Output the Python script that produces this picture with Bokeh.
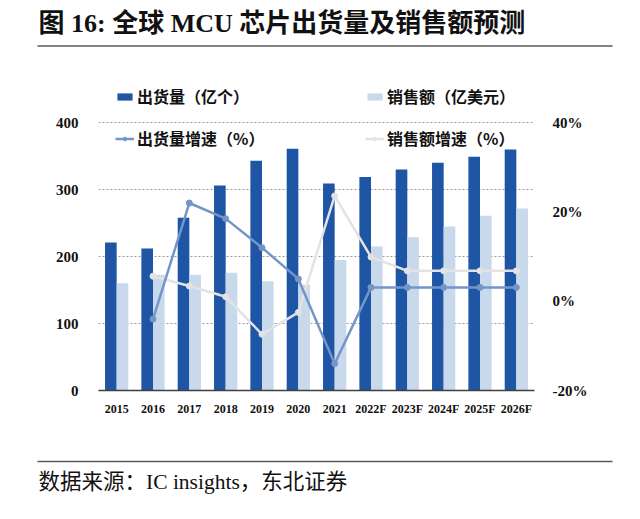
from bokeh.plotting import figure
from bokeh.models import (ColumnDataSource, FactorRange, Range1d, LinearAxis, FixedTicker,
                          Legend, LegendItem, PrintfTickFormatter)
from bokeh.transform import dodge
from bokeh.embed import file_html
from bokeh.resources import INLINE
from bokeh.core.properties import value

# ---------------- data ----------------
years = ["2015", "2016", "2017", "2018", "2019", "2020", "2021",
         "2022F", "2023F", "2024F", "2025F", "2026F"]
shipments = [221, 212, 258, 306, 343, 361, 309, 319, 330, 340, 349, 360]      # 亿个
sales = [160, 173, 173, 176, 163, 158, 195, 215, 229, 245, 261, 272]          # 亿美元
growth_years = ["2016", "2017", "2018", "2019", "2020", "2021",
                "2022F", "2023F", "2024F", "2025F", "2026F"]
ship_growth = [-4.0, 22.0, 18.5, 12.0, 5.0, -14.0, 3.1, 3.1, 3.1, 3.1, 3.1]   # %
sales_growth = [5.6, 3.4, 1.0, -7.4, -2.5, 23.6, 9.9, 6.8, 6.8, 6.8, 6.8]     # %
left_ticks = [0, 100, 200, 300, 400]
right_ticks = [-20, 0, 20, 40]

title_text = "图 16:  全球 MCU 芯片出货量及销售额预测"
source_text = "数据来源：IC insights，东北证券"
lbl_ship = "出货量（亿个）"
lbl_sales = "销售额（亿美元）"
lbl_ship_g = "出货量增速（%）"
lbl_sales_g = "销售额增速（%）"

DARK = "#1F55A5"
LIGHT = "#C9D9EC"
BLUE_LINE = "#7395C9"
GRAY_LINE = "#E3E3E3"
RULE = "#5A5A5A"
SERIF = "'Liberation Serif', 'Noto Sans CJK SC'"
CJK = "'Noto Sans CJK SC'"

W = 632

# ---------------- header ----------------
head = figure(width=W, height=60, x_range=Range1d(0, W), y_range=Range1d(60, 0),
              x_axis_type=None, y_axis_type=None, toolbar_location=None,
              output_backend="svg", min_border=0, outline_line_color=None)
head.grid.visible = False
head.text(x=[38], y=[23], text=[title_text], text_font=value(SERIF),
          text_font_style="bold", text_font_size="26px", text_baseline="middle",
          text_color="#111111")
head.segment(x0=[37], y0=[45.5], x1=[612], y1=[45.5], line_color=RULE, line_width=1.5)

# ---------------- main chart ----------------
src = ColumnDataSource(dict(year=years, ship=shipments, sales=sales))
gsrc = ColumnDataSource(dict(year=growth_years, sg=ship_growth, slg=sales_growth))

p = figure(width=W, height=385, x_range=FactorRange(*years), y_range=Range1d(0, 460),
           toolbar_location=None, output_backend="svg",
           min_border_left=98, min_border_right=98, min_border_top=22, min_border_bottom=55,
           outline_line_color=None)
p.extra_y_ranges = {"pct": Range1d(-20, 49.0)}

b1 = p.vbar(x=dodge("year", -0.16, range=p.x_range), top="ship", width=0.32,
            source=src, fill_color=DARK, line_color=None)
b2 = p.vbar(x=dodge("year", 0.16, range=p.x_range), top="sales", width=0.32,
            source=src, fill_color=LIGHT, line_color=None)

l2 = p.line(x="year", y="slg", source=gsrc, y_range_name="pct", line_color=GRAY_LINE, line_width=2.5)
s2 = p.scatter(x="year", y="slg", source=gsrc, y_range_name="pct", size=6,
               fill_color=GRAY_LINE, line_color=GRAY_LINE)
l1 = p.line(x="year", y="sg", source=gsrc, y_range_name="pct", line_color=BLUE_LINE, line_width=2.5)
s1 = p.scatter(x="year", y="sg", source=gsrc, y_range_name="pct", size=6,
               fill_color=BLUE_LINE, line_color=BLUE_LINE)

# grid
p.xgrid.grid_line_color = None
p.ygrid.ticker = FixedTicker(ticks=[100, 200, 300, 400])
p.ygrid.grid_line_color = "#9A9A9A"
p.ygrid.grid_line_dash = "2 2"
p.ygrid.grid_line_width = 1

# left axis
p.yaxis.ticker = FixedTicker(ticks=left_ticks)
p.yaxis.axis_line_color = None
p.yaxis.major_tick_line_color = None
p.yaxis.minor_tick_line_color = None
p.yaxis.major_label_text_font = SERIF
p.yaxis.major_label_text_font_style = "bold"
p.yaxis.major_label_text_font_size = "15px"
p.yaxis.major_label_text_color = "#111111"
p.yaxis.major_label_standoff = 14

# right axis
ra = LinearAxis(y_range_name="pct", ticker=FixedTicker(ticks=right_ticks),
                formatter=PrintfTickFormatter(format="%d%%"))
ra.axis_line_color = None
ra.major_tick_line_color = None
ra.minor_tick_line_color = None
ra.major_label_text_font = SERIF
ra.major_label_text_font_style = "bold"
ra.major_label_text_font_size = "15px"
ra.major_label_text_color = "#111111"
ra.major_label_standoff = 12
p.add_layout(ra, "right")

# x axis
p.xaxis.axis_line_color = "#404040"
p.xaxis.axis_line_width = 1.5
p.xaxis.major_tick_line_color = None
p.xaxis.minor_tick_line_color = None
p.xaxis.major_label_text_font = SERIF
p.xaxis.major_label_text_font_style = "bold"
p.xaxis.major_label_text_font_size = "12px"
p.xaxis.major_label_text_color = "#111111"
p.xaxis.major_label_standoff = 5

def make_legend(items, loc):
    return Legend(items=items, location=loc, orientation="vertical",
                  background_fill_alpha=0, border_line_color=None, padding=0, margin=0,
                  spacing=18, label_height=20, glyph_height=9, glyph_width=19,
                  label_standoff=3, label_text_font=CJK, label_text_font_style="bold",
                  label_text_font_size="16px", label_text_color="#111111")

leg1 = make_legend([LegendItem(label=lbl_ship, renderers=[b1]),
                    LegendItem(label=lbl_ship_g, renderers=[l1, s1])], (17, 240))
leg2 = make_legend([LegendItem(label=lbl_sales, renderers=[b2]),
                    LegendItem(label=lbl_sales_g, renderers=[l2, s2])], (267, 240))
p.add_layout(leg1)
p.add_layout(leg2)

# ---------------- footer ----------------
foot = figure(width=W, height=66, x_range=Range1d(0, W), y_range=Range1d(66, 0),
              x_axis_type=None, y_axis_type=None, toolbar_location=None,
              output_backend="svg", min_border=0, outline_line_color=None)
foot.grid.visible = False
foot.segment(x0=[37], y0=[16], x1=[612], y1=[16], line_color=RULE, line_width=1.5)
foot.text(x=[38], y=[36], text=[source_text], text_font=value(SERIF),
          text_font_size="21.5px", text_baseline="middle", text_color="#111111")

open("out.html", "w").write(file_html([head, p, foot], INLINE))
